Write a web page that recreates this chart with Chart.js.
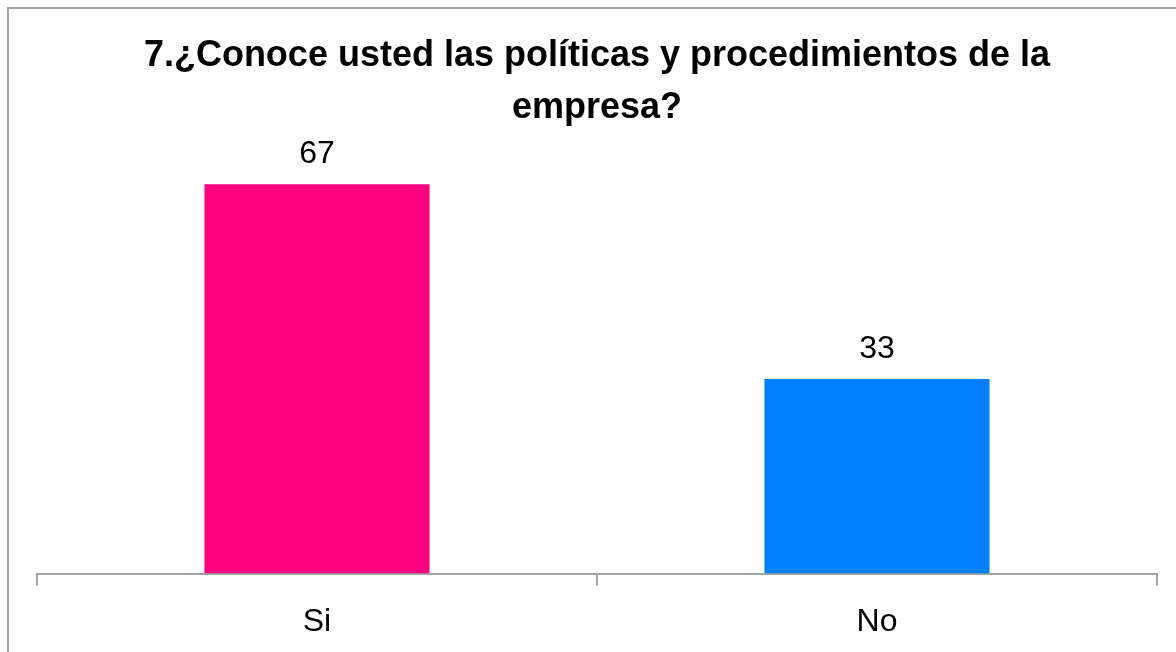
<!DOCTYPE html>
<html>
<head>
<meta charset="utf-8">
<script src="https://cdn.jsdelivr.net/npm/chart.js@4/dist/chart.umd.min.js"></script>
<style>
  html, body { margin: 0; padding: 0; overflow: hidden; background: #ffffff; }
  #wrap { position: relative; width: 1176px; height: 652px; }
  #frame { position: absolute; left: 7px; top: 7px; width: 1300px; height: 800px;
           border: 2px solid #a3a3a3; box-sizing: border-box; pointer-events: none; }
  canvas { position: absolute; left: 0; top: 0; }
</style>
</head>
<body>
<div id="wrap">
  <canvas id="c" width="1176" height="652"></canvas>
  <div id="frame"></div>
</div>
<script>
const titleLines = ["7.¿Conoce usted las políticas y procedimientos de la", "empresa?"];
const categories = ["Si", "No"];
const values = [66.67, 33.33];
const barColors = ["#FF0080", "#0080FF"];

const FONT = "'Liberation Sans', Arial, sans-serif";

const valueLabels = {
  id: 'valueLabels',
  afterDatasetsDraw(chart) {
    const ctx = chart.ctx;
    const meta = chart.getDatasetMeta(0);
    ctx.save();
    ctx.font = "32px " + FONT;
    ctx.fillStyle = "#000000";
    ctx.textAlign = "center";
    ctx.textBaseline = "alphabetic";
    meta.data.forEach((bar, i) => {
      const v = chart.data.datasets[0].data[i];
      ctx.fillText(String(Math.round(v)), bar.x, bar.y - 21);
    });
    ctx.restore();
  }
};

new Chart(document.getElementById('c'), {
  type: 'bar',
  data: {
    labels: categories,
    datasets: [{
      data: values,
      backgroundColor: barColors,
      borderWidth: 0,
      categoryPercentage: 1.0,
      barPercentage: 0.402
    }]
  },
  options: {
    responsive: false,
    animation: false,
    devicePixelRatio: 1,
    layout: { padding: { left: 37, right: 19, top: 0, bottom: -6 } },
    plugins: {
      legend: { display: false },
      tooltip: { enabled: false },
      title: {
        display: true,
        text: titleLines,
        color: "#000000",
        font: { family: FONT, size: 36, weight: 'bold', lineHeight: 1.44 },
        padding: { top: 30, bottom: 2 }
      }
    },
    scales: {
      y: {
        display: false,
        min: 0,
        max: 75
      },
      x: {
        offset: true,
        border: { display: true, color: "#a3a3a3", width: 2 },
        grid: {
          offset: true,
          drawOnChartArea: false,
          drawTicks: true,
          tickLength: 12,
          color: "#a3a3a3",
          lineWidth: 2
        },
        ticks: {
          color: "#000000",
          padding: 17,
          font: { family: FONT, size: 32, lineHeight: 1.2 }
        }
      }
    }
  },
  plugins: [valueLabels]
});
</script>
</body>
</html>
